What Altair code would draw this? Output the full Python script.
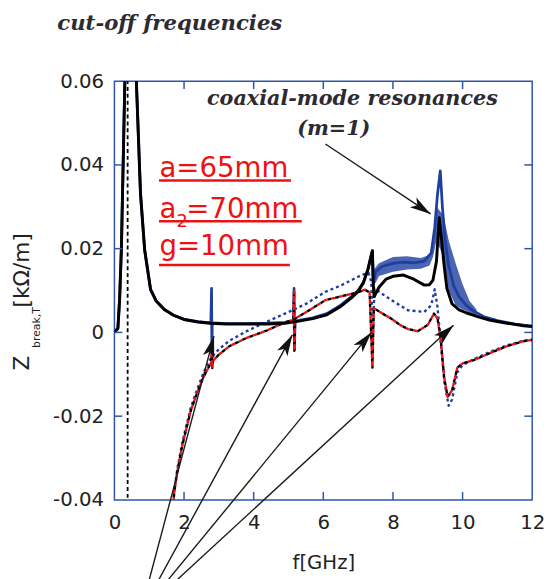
import math
import altair as alt
import pandas as pd

# ---------------- data ----------------
x_ticks = [0, 2, 4, 6, 8, 10, 12]
y_ticks = [-0.04, -0.02, 0, 0.02, 0.04, 0.06]

# Re Z (black, solid)
black_solid = [
    (0, 0), (0.1, 0.001), (0.15, 0.008), (0.2, 0.02), (0.3, 0.06), (0.42, 0.13),
    (0.52, 0.1), (0.63, 0.06), (0.75, 0.033), (0.87, 0.0196), (1.04, 0.0102),
    (1.2, 0.0075), (1.43, 0.0055), (1.7, 0.0041), (2.0, 0.0031), (2.4, 0.0025),
    (2.75, 0.0022), (3.2, 0.002), (3.8, 0.002), (4.4, 0.002), (4.9, 0.0022),
    (5.3, 0.0027), (5.7, 0.0033), (6.1, 0.0042), (6.5, 0.0062), (6.8, 0.0082),
    (7.0, 0.0098), (7.15, 0.0118), (7.28, 0.015), (7.36, 0.0178), (7.41, 0.0195),
    (7.43, 0.012), (7.46, 0.0085), (7.5, 0.0092), (7.6, 0.0108), (7.8, 0.0127),
    (8.0, 0.0134), (8.3, 0.0137), (8.6, 0.0127), (8.9, 0.0113), (9.05, 0.0114),
    (9.15, 0.0125), (9.25, 0.017), (9.33, 0.0274), (9.4, 0.022), (9.47, 0.016),
    (9.55, 0.0105), (9.7, 0.0068), (9.9, 0.0054), (10.1, 0.0047), (10.5, 0.0036),
    (10.8, 0.0029), (11.2, 0.0023), (11.75, 0.0016), (12, 0.0014),
]

# Re Z (blue, solid, noisy)
blue_solid = [
    (0, 0), (0.1, 0.001), (0.15, 0.008), (0.2, 0.02), (0.3, 0.06), (0.42, 0.13),
    (0.52, 0.1), (0.63, 0.06), (0.75, 0.033), (0.87, 0.0196), (1.04, 0.0102),
    (1.2, 0.0075), (1.43, 0.0055), (1.7, 0.0041), (2.0, 0.0031), (2.4, 0.0026),
    (2.77, 0.0023), (2.79, 0.0105), (2.80, -0.0062), (2.81, 0.0025), (2.83, 0.0023),
    (3.2, 0.0021), (3.8, 0.0021), (4.4, 0.0022), (4.9, 0.0024), (5.14, 0.0026),
    (5.16, 0.0105), (5.17, -0.004), (5.19, 0.0028), (5.3, 0.0029), (5.7, 0.0035),
    (6.1, 0.0045), (6.5, 0.0065), (6.8, 0.0085), (7.0, 0.01), (7.15, 0.012),
    (7.28, 0.015), (7.36, 0.0178), (7.41, 0.0195), (7.44, 0.012), (7.5, 0.0145),
    (7.7, 0.0158), (8.0, 0.0165), (8.3, 0.0168), (8.6, 0.0166), (8.9, 0.017),
    (9.1, 0.019), (9.2, 0.025), (9.28, 0.033), (9.36, 0.0386), (9.42, 0.03),
    (9.5, 0.022), (9.6, 0.016), (9.75, 0.011), (9.9, 0.0085), (10.1, 0.0065),
    (10.3, 0.0052), (10.6, 0.0038), (11.0, 0.0028), (11.5, 0.002), (12, 0.0015),
]

# noisy spread of the blue curve (x, low, high)
blue_band = [
    (7.45, 0.011, 0.015), (7.6, 0.0135, 0.0165), (8.0, 0.0145, 0.018),
    (8.4, 0.015, 0.0182), (8.8, 0.0152, 0.0178), (9.05, 0.016, 0.0185),
    (9.15, 0.018, 0.022), (9.25, 0.022, 0.03), (9.45, 0.018, 0.028),
    (9.6, 0.01, 0.022), (9.8, 0.0065, 0.0165), (10.0, 0.0055, 0.0115),
    (10.2, 0.0048, 0.0075), (10.4, 0.004, 0.0055),
]

# Im Z (red / black, dashed)
red_dashed = [
    (1.65, -0.045), (1.72, -0.038), (1.8, -0.0335), (1.95, -0.027), (2.08, -0.0225),
    (2.2, -0.0185), (2.36, -0.0148), (2.55, -0.0108), (2.78, -0.0072), (2.8, -0.0035),
    (2.81, -0.0085), (2.83, -0.0068), (3.0, -0.0053), (3.3, -0.0033), (3.8, -0.0013),
    (4.36, 0.0004), (4.93, 0.0025), (5.14, 0.003), (5.16, 0.0098), (5.17, -0.0044),
    (5.19, 0.0033), (5.5, 0.0048), (6.06, 0.0077), (6.5, 0.0086), (7.0, 0.0096),
    (7.2, 0.0102), (7.33, 0.0095), (7.41, -0.0084), (7.45, 0.0058), (7.7, 0.0045),
    (7.95, 0.0033), (8.2, 0.0018), (8.43, 0.0008), (8.71, 0.0003), (9.0, 0.0018),
    (9.18, 0.0045), (9.28, 0.0033), (9.37, -0.0013), (9.47, -0.0107), (9.57, -0.0154),
    (9.7, -0.0138), (9.85, -0.0084), (10.0, -0.0074), (10.32, -0.0066), (10.8, -0.0049),
    (11.27, -0.0033), (11.74, -0.0021), (12, -0.0018),
]

# Im Z (blue, dotted)
blue_dotted = [
    (1.65, -0.045), (1.72, -0.0378), (1.8, -0.033), (1.95, -0.0262), (2.08, -0.0218),
    (2.2, -0.0178), (2.36, -0.014), (2.55, -0.0098), (2.78, -0.006), (3.0, -0.004),
    (3.3, -0.002), (3.8, 0.0003), (4.36, 0.0025), (4.9, 0.0045), (5.5, 0.0068),
    (6.06, 0.0097), (6.5, 0.0112), (7.1, 0.0137), (7.3, 0.0142), (7.38, 0.012),
    (7.42, -0.002), (7.47, 0.0105), (7.76, 0.0088), (8.0, 0.0075), (8.43, 0.0053),
    (8.9, 0.0049), (9.1, 0.0065), (9.2, 0.0103), (9.28, 0.006), (9.38, -0.003),
    (9.48, -0.012), (9.6, -0.0175), (9.7, -0.016), (9.85, -0.0095), (10.0, -0.0078),
    (10.32, -0.0064), (10.8, -0.0046), (11.27, -0.0031), (11.74, -0.002), (12, -0.0017),
]

cutoff_x = [0.38]
cutoff_y = [-0.0395, 0.06]

# arrows: (x_start, y_start, x_tip, y_tip) in data units
arrows = [
    (6.06, 0.045, 9.08, 0.0283),
    (0.74, -0.0672, 2.86, -0.0009),
    (0.74, -0.0672, 5.11, -0.0006),
    (0.74, -0.0672, 7.38, 0.0),
    (0.74, -0.0672, 9.74, 0.0017),
]

# annotation texts: (x, y, text)
title_text = [(-1.64, 0.0721, "cut-off frequencies")]
coax_text = [(2.66, 0.0542, "coaxial-mode resonances")]
m_text = [(6.3, 0.0471, "(m=1)")]
red_big = [(1.293, 0.0370, "a=65mm"), (1.293, 0.02744, "a"),
           (2.066, 0.02744, "=70mm"), (1.293, 0.01842, "g=10mm")]
red_sub = [(1.783, 0.02525, "2")]
red_underlines = [(1.28, 5.07, 0.0363), (1.28, 5.38, 0.02654), (1.28, 5.04, 0.0161)]
ytitle_big = [(-2.66, -0.0091, "Z"), (-2.66, 0.00595, "[kΩ/m]")]
ytitle_sub = [(-2.23, -0.0037, "break,T")]

# ---------------- chart ----------------
W, H = 424, 425
XD, YD = [0, 12], [-0.04, 0.06]
FRAME = "#2f55aa"
BLUE = "#1f3f9f"
RED = "#ee1111"

xs = alt.Scale(domain=XD, nice=False, zero=False)
ys = alt.Scale(domain=YD, nice=False, zero=False)

x_axis = alt.Axis(values=x_ticks, grid=False, domain=False, ticks=False,
                  labelFont="DejaVu Sans", labelFontSize=20, labelColor="#222222",
                  labelPadding=13, labelFlush=False,
                  title="f[GHz]", titleFont="DejaVu Sans", titleFontSize=20,
                  titleFontWeight="normal", titleColor="#222222",
                  titleBaseline="alphabetic", titleY=70)
y_axis = alt.Axis(values=y_ticks, grid=False, domain=False, ticks=False,
                  labelFont="DejaVu Sans", labelFontSize=20, labelColor="#222222",
                  labelPadding=11, labelFlush=False, title=None,
                  labelExpr="datum.value == 0 ? '0' : (datum.value < 0 ? '-' + format(-datum.value, '.2f') : format(datum.value, '.2f'))")


def X(f="x"):
    return alt.X(f, type="quantitative", scale=xs, axis=x_axis)


def Y(f="y"):
    return alt.Y(f, type="quantitative", scale=ys, axis=y_axis)


def pts(lst):
    return pd.DataFrame(lst, columns=["x", "y"])


def line(lst, color, width, dash=None, offset=None):
    kw = dict(color=color, strokeWidth=width, clip=True, strokeJoin="round")
    if dash is not None:
        kw["strokeDash"] = dash
    if offset is not None:
        kw["strokeDashOffset"] = offset
    return alt.Chart(pts(lst)).mark_line(**kw).encode(x=X(), y=Y(), order="i:Q") \
        .transform_window(i="row_number()")


layers = []

# blue noisy band
band_df = pd.DataFrame(blue_band, columns=["x", "lo", "hi"])
layers.append(alt.Chart(band_df).mark_area(color=BLUE, opacity=0.8, clip=True).encode(
    x=X(), y=alt.Y("lo:Q", scale=ys, axis=y_axis), y2="hi:Q"))

layers.append(line(blue_solid, BLUE, 2.8))
layers.append(line(blue_dotted, BLUE, 2.4, dash=[3, 3]))
layers.append(line(red_dashed, "black", 2.4, dash=[4, 4]))
layers.append(line(red_dashed, RED, 2.4, dash=[4, 4], offset=4))
layers.append(line(black_solid, "black", 3.0))

# cut-off dashed vertical
cut_df = pd.DataFrame({"x": cutoff_x, "y": [cutoff_y[0]], "y2": [cutoff_y[1]]})
layers.append(alt.Chart(cut_df).mark_rule(color="black", strokeWidth=1.8,
                                          strokeDash=[4, 3]).encode(
    x=X(), y=Y(), y2="y2:Q"))

# inward ticks on all four sides
TLX = 8 / W * (XD[1] - XD[0])
TLY = 8 / H * (YD[1] - YD[0])
tick_rows = []
for t in x_ticks[1:-1]:
    tick_rows.append((t, t, YD[0], YD[0] + TLY))
    tick_rows.append((t, t, YD[1], YD[1] - TLY))
for t in y_ticks[1:-1]:
    tick_rows.append((XD[0], XD[0] + TLX, t, t))
    tick_rows.append((XD[1] - TLX, XD[1], t, t))
ticks_df = pd.DataFrame(tick_rows, columns=["x", "x2", "y", "y2"])
layers.append(alt.Chart(ticks_df).mark_rule(color=FRAME, strokeWidth=1.5).encode(
    x=X(), x2="x2:Q", y=Y(), y2="y2:Q"))

# arrows
arr_df = pd.DataFrame(arrows, columns=["x", "y", "x2", "y2"])
layers.append(alt.Chart(arr_df).mark_rule(color="#1a1a1a", strokeWidth=1.4, clip=False).encode(
    x=X(), y=Y(), x2="x2:Q", y2="y2:Q"))


def to_px(x, y):
    return x / (XD[1] - XD[0]) * W, (YD[1] - y) / (YD[1] - YD[0]) * H


heads = []
for xs0, ys0, xt, yt in arrows:
    p0 = to_px(xs0, ys0)
    p1 = to_px(xt, yt)
    ang = math.degrees(math.atan2(p1[0] - p0[0], -(p1[1] - p0[1]))) % 360
    heads.append((xt, yt, ang))
heads_df = pd.DataFrame(heads, columns=["x", "y", "ang"])
layers.append(alt.Chart(heads_df).mark_point(
    shape="M0,0L0.5,1.8L0,1.35L-0.5,1.8Z", size=560, filled=True, opacity=1,
    color="#111111", clip=False).encode(
    x=X(), y=Y(), angle=alt.Angle("ang:Q", scale=None)))


def texts(lst, **kw):
    df = pd.DataFrame(lst, columns=["x", "y", "t"])
    return alt.Chart(df).mark_text(clip=False, **kw).encode(x=X(), y=Y(), text="t:N")


SERIF = dict(font="DejaVu Serif", fontStyle="italic", fontWeight="bold",
             fontSize=21, color="#2c2a33", align="left", baseline="alphabetic")
layers.append(texts(title_text, **{**SERIF, "fontSize": 21.5}))
layers.append(texts(coax_text, **SERIF))
layers.append(texts(m_text, **{**SERIF, "align": "center"}))

layers.append(texts(red_big, font="DejaVu Sans", fontSize=28, color=RED,
                    align="left", baseline="alphabetic"))
layers.append(texts(red_sub, font="DejaVu Sans", fontSize=18, color=RED,
                    align="left", baseline="alphabetic"))
ul_df = pd.DataFrame(red_underlines, columns=["x", "x2", "y"])
layers.append(alt.Chart(ul_df).mark_rule(color=RED, strokeWidth=2.5, clip=False).encode(
    x=X(), x2="x2:Q", y=Y()))

layers.append(texts(ytitle_big, font="DejaVu Sans", fontSize=22, color="#222222",
                    align="left", baseline="middle", angle=270))
layers.append(texts(ytitle_sub, font="DejaVu Sans", fontSize=11, color="#222222",
                    align="left", baseline="middle", angle=270))

chart = alt.layer(*layers).properties(
    width=W, height=H,
    padding={"left": 108, "top": 70, "right": 14, "bottom": 76},
    autosize=alt.AutoSizeParams(type="none"),
).configure_view(stroke=FRAME, strokeWidth=1.5)

chart.save("out.html", embed_options={"renderer": "svg", "actions": False})
